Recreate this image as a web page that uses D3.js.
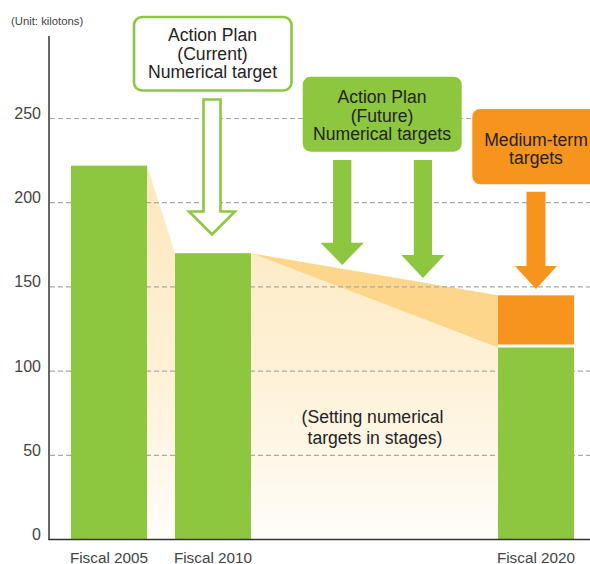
<!DOCTYPE html>
<html>
<head>
<meta charset="utf-8">
<script src="https://cdn.jsdelivr.net/npm/d3@7"></script>
<style>
  html, body { margin: 0; padding: 0; background: #fff; }
  svg { display: block; font-family: "Liberation Sans", Arial, Helvetica, sans-serif; }
</style>
</head>
<body>
<svg id="chart" width="590" height="564"></svg>
<script>
// Emissions (kilotons) by fiscal year
const fiscalYears = [2005, 2010, 2020];
const yearLabels = ["Fiscal 2005", "Fiscal 2010", "Fiscal 2020"];
const actionPlanValues = [222, 170, 114];   // green bars
const mediumTermValues = [null, null, 145]; // orange top of the 2020 bar
const yTicks = [0, 50, 100, 150, 200, 250];
const unitLabel = "(Unit: kilotons)";
const stageYears = [2014, 2016.5];          // interim stages of the future action plan

const svg = d3.select("#chart");
const W = 590, H = 564;

const y = d3.scaleLinear().domain([0, 300]).range([539.5, 34.3]);
const x = d3.scaleLinear().domain([2005, 2010, 2020]).range([109, 213, 536]);
const barW = 76;

const GREEN = "#8dc63f", ORANGE = "#f7941d", TEXT = "#262223";
const BOX_FONT = 17.6;

// gradient for the reduction fan
const defs = svg.append("defs");
const grad = defs.append("linearGradient")
  .attr("id", "fan").attr("gradientUnits", "userSpaceOnUse")
  .attr("x1", 0).attr("x2", 0).attr("y1", y(actionPlanValues[0])).attr("y2", y(0));
grad.append("stop").attr("offset", 0).attr("stop-color", "#fde8bd");
grad.append("stop").attr("offset", 0.55).attr("stop-color", "#fef1d6");
grad.append("stop").attr("offset", 1).attr("stop-color", "#fffdf9");

// unit label
svg.append("text").attr("x", 11).attr("y", 25)
  .attr("font-size", 11.3).attr("fill", "#444").text(unitLabel);

// fan under the trajectory
const left = i => x(fiscalYears[i]) - barW / 2;
const right = i => x(fiscalYears[i]) + barW / 2;
const fanPts = [
  [right(0), y(actionPlanValues[0])],
  [left(1), y(actionPlanValues[1])],
  [right(1), y(actionPlanValues[1])],
  [left(2), y(actionPlanValues[2])],
  [left(2), y(0)],
  [right(0), y(0)]
];
svg.append("path").attr("d", d3.line()(fanPts) + "Z").attr("fill", "url(#fan)");

// darker wedge between action plan path and medium-term target
const wedge = [
  [right(1), y(actionPlanValues[1])],
  [left(2), y(mediumTermValues[2])],
  [left(2), y(actionPlanValues[2])]
];
svg.append("path").attr("d", d3.line()(wedge) + "Z").attr("fill", "#fdd68c");

// dashed gridlines
svg.append("g").selectAll("line").data(yTicks.filter(d => d > 0)).join("line")
  .attr("x1", 50).attr("x2", W).attr("y1", d => y(d)).attr("y2", d => y(d))
  .attr("stroke", "#a9a9a9").attr("stroke-width", 1.2).attr("stroke-dasharray", "5,3");

// y tick labels
svg.append("g").selectAll("text").data(yTicks).join("text")
  .attr("x", 41).attr("y", d => y(d) + 0.5).attr("text-anchor", "end")
  .attr("font-size", 16).attr("fill", "#444").text(d => d);

// green bars
svg.append("g").selectAll("rect").data(fiscalYears).join("rect")
  .attr("x", (d, i) => left(i)).attr("width", barW)
  .attr("y", (d, i) => y(actionPlanValues[i]))
  .attr("height", (d, i) => y(0) - y(actionPlanValues[i]))
  .attr("fill", GREEN);

// orange medium-term segment
svg.append("g").selectAll("rect").data(fiscalYears.filter((d, i) => mediumTermValues[i] != null)).join("rect")
  .attr("x", d => x(d) - barW / 2).attr("width", barW)
  .attr("y", d => y(mediumTermValues[fiscalYears.indexOf(d)]))
  .attr("height", d => {
    const i = fiscalYears.indexOf(d);
    return y(actionPlanValues[i]) - y(mediumTermValues[i]) - 3;
  })
  .attr("fill", ORANGE);

// axes lines
svg.append("line").attr("x1", 49).attr("x2", 49).attr("y1", 36).attr("y2", y(0))
  .attr("stroke", "#333").attr("stroke-width", 1.5);
svg.append("line").attr("x1", 48.25).attr("x2", W).attr("y1", y(0)).attr("y2", y(0))
  .attr("stroke", "#333").attr("stroke-width", 1.5);

// x labels
svg.append("g").selectAll("text").data(fiscalYears).join("text")
  .attr("x", d => x(d)).attr("y", 562.5).attr("text-anchor", "middle")
  .attr("font-size", 15.3).attr("fill", "#444").text((d, i) => yearLabels[i]);

// down-pointing block arrow
function downArrow(cx, top, headTop, tip, shaftW, headW) {
  const s = shaftW / 2, h = headW / 2;
  return `M${cx - s},${top}H${cx + s}V${headTop}H${cx + h}L${cx},${tip}L${cx - h},${headTop}H${cx + s - shaftW}Z`;
}

// multi-line text block as one text element
function multiline(cx, firstBaseline, lineGap, lines, offsets) {
  const t = svg.append("text").attr("y", firstBaseline).attr("text-anchor", "middle")
    .attr("font-size", BOX_FONT).attr("fill", TEXT);
  lines.forEach((s, i) => {
    t.append("tspan").attr("x", cx + (offsets ? offsets[i] : 0))
      .attr("dy", i === 0 ? 0 : lineGap).text(s);
  });
}

// label boxes
function box(x0, y0, w, h, fill, stroke, lines, firstBaseline, lineGap, cx) {
  svg.append("rect").attr("x", x0).attr("y", y0).attr("width", w).attr("height", h)
    .attr("rx", 8).attr("fill", fill)
    .attr("stroke", stroke || "none").attr("stroke-width", stroke ? 2.6 : 0);
  multiline(cx, firstBaseline, lineGap, lines);
}

// current action plan
box(134, 17, 157.5, 73.5, "#fff", GREEN,
  ["Action Plan", "(Current)", "Numerical target"], 41, 18.5, x(2010) - 0.5);
svg.append("path").attr("d", downArrow(x(2010) - 1, 99.5, 211.5, 234.5, 17, 46))
  .attr("fill", "#fff").attr("stroke", GREEN).attr("stroke-width", 2.6).attr("stroke-linejoin", "miter");

// future action plan
box(302.7, 76.7, 159, 75, GREEN, null,
  ["Action Plan", "(Future)", "Numerical targets"], 103, 18.5, 382);
svg.append("path").attr("d", downArrow(x(stageYears[0]), 160, 242.7, 265, 18.3, 43.3)).attr("fill", GREEN);
svg.append("path").attr("d", downArrow(x(stageYears[1]), 160, 255, 278, 18.3, 43.3)).attr("fill", GREEN);

// medium-term targets
box(472.3, 109, 140, 75.3, ORANGE, null,
  ["Medium-term", "targets"], 145.5, 18.5, x(2020));
svg.append("path").attr("d", downArrow(x(2020), 191.7, 266, 289, 19, 42)).attr("fill", ORANGE);

// note on staged targets
multiline(372.5, 423, 20.5, ["(Setting numerical", "targets in stages)"], [0, 2.5]);
</script>
</body>
</html>
